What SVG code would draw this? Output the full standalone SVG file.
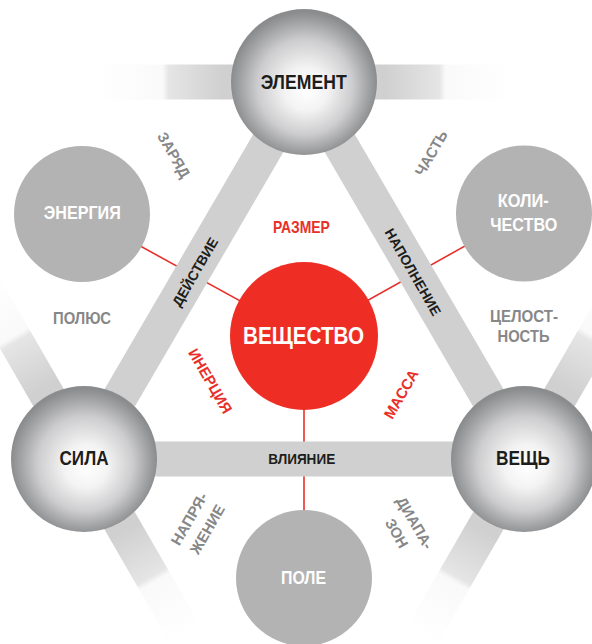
<svg xmlns="http://www.w3.org/2000/svg" width="592" height="644" viewBox="0 0 592 644">
<defs>
<radialGradient id="sphere" cx="50%" cy="52%" r="50%" fx="52%" fy="56%">
<stop offset="0" stop-color="#ffffff"/>
<stop offset="0.3" stop-color="#f3f3f3"/>
<stop offset="0.65" stop-color="#cdcdcf"/>
<stop offset="0.9" stop-color="#9d9ea0"/>
<stop offset="1" stop-color="#8b8c8e"/>
</radialGradient>
<linearGradient id="fade" x1="0" y1="0" x2="1" y2="0">
<stop offset="0" stop-color="#d0d0d0" stop-opacity="1"/>
<stop offset="0.4" stop-color="#d0d0d0" stop-opacity="1"/>
<stop offset="0.66" stop-color="#d0d0d0" stop-opacity="0.55"/>
<stop offset="0.69" stop-color="#d0d0d0" stop-opacity="0.12"/>
<stop offset="1" stop-color="#d0d0d0" stop-opacity="0"/>
</linearGradient>
</defs>
<style>
.t{font-family:"Liberation Sans",Arial,sans-serif;font-weight:bold;text-anchor:middle}
.blk{fill:#1d1d1b}
.wht{fill:#ffffff}
.gry{fill:#878787}
.red{fill:#e8302a}
.bar{stroke:#d0d0d0;stroke-width:35;fill:none}
.rl{stroke:#e8302a;stroke-width:1.6;fill:none}
.sph{fill:url(#sphere)}
.gc{fill:#b3b3b3}
</style>
<rect width="592" height="644" fill="#ffffff"/>
<g id="connectors">
<line class="rl" x1="82" y1="214" x2="304" y2="336"/>
<line class="rl" x1="524" y1="213" x2="304" y2="336"/>
<line class="rl" x1="304" y1="578" x2="304" y2="336"/>
<g id="outer-bars">
<rect x="0" y="-17.5" width="205" height="35" fill="url(#fade)" transform="translate(304 82) rotate(180)"/>
<rect x="0" y="-17.5" width="205" height="35" fill="url(#fade)" transform="translate(304 82)"/>
<rect x="0" y="-17.5" width="205" height="35" fill="url(#fade)" transform="translate(84 459) rotate(-120)"/>
<rect x="0" y="-17.5" width="205" height="35" fill="url(#fade)" transform="translate(84 459) rotate(60)"/>
<rect x="0" y="-17.5" width="205" height="35" fill="url(#fade)" transform="translate(524 459) rotate(-60)"/>
<rect x="0" y="-17.5" width="205" height="35" fill="url(#fade)" transform="translate(524 459) rotate(120)"/>
</g>
<line id="edge-action" class="bar" x1="84" y1="459" x2="304" y2="82"/>
<line id="edge-filling" class="bar" x1="304" y1="82" x2="524" y2="459"/>
<line id="edge-influence" class="bar" x1="84" y1="459" x2="524" y2="459"/>
<text class="t blk" font-size="14" textLength="77" lengthAdjust="spacingAndGlyphs" transform="translate(195 272) rotate(-60)" y="5">ДЕЙСТВИЕ</text>
<text class="t blk" font-size="14" textLength="98" lengthAdjust="spacingAndGlyphs" transform="translate(413 272) rotate(60)" y="5">НАПОЛНЕНИЕ</text>
<text class="t blk" x="301.7" y="464" font-size="14" textLength="67" lengthAdjust="spacingAndGlyphs">ВЛИЯНИЕ</text>
</g>
<g id="node-element">
<circle class="sph" cx="304" cy="82" r="73"/>
<text class="t blk" x="303.7" y="89.3" font-size="21" textLength="86" lengthAdjust="spacingAndGlyphs">ЭЛЕМЕНТ</text>
</g>
<g id="node-sila">
<circle class="sph" cx="84" cy="459" r="73"/>
<text class="t blk" x="84" y="464.7" font-size="20" textLength="49" lengthAdjust="spacingAndGlyphs">СИЛА</text>
</g>
<g id="node-veshch">
<circle class="sph" cx="524" cy="459" r="73"/>
<text class="t blk" x="523" y="465.3" font-size="20" textLength="54" lengthAdjust="spacingAndGlyphs">ВЕЩЬ</text>
</g>
<g id="node-veshchestvo">
<circle cx="304" cy="336" r="74" fill="#ee2e24"/>
<text class="t wht" x="303.5" y="344" font-size="24" textLength="121" lengthAdjust="spacingAndGlyphs">ВЕЩЕСТВО</text>
</g>
<g id="node-energiya">
<circle class="gc" cx="82" cy="214" r="68"/>
<text class="t wht" x="82.3" y="218.7" font-size="17.5" textLength="77" lengthAdjust="spacingAndGlyphs">ЭНЕРГИЯ</text>
</g>
<g id="node-kolichestvo">
<circle class="gc" cx="524" cy="213.5" r="68"/>
<text class="t wht" x="523.3" y="206.7" font-size="18" textLength="51" lengthAdjust="spacingAndGlyphs">КОЛИ-</text>
<text class="t wht" x="523.7" y="230.7" font-size="18" textLength="67" lengthAdjust="spacingAndGlyphs">ЧЕСТВО</text>
</g>
<g id="node-pole">
<circle class="gc" cx="304" cy="578" r="68"/>
<text class="t wht" x="303.5" y="584" font-size="18" textLength="45" lengthAdjust="spacingAndGlyphs">ПОЛЕ</text>
</g>
<g id="labels">
<text class="t red" x="301.4" y="233.3" font-size="17" textLength="57" lengthAdjust="spacingAndGlyphs">РАЗМЕР</text>
<text class="t red" font-size="15" textLength="72" lengthAdjust="spacingAndGlyphs" transform="translate(210.5 381) rotate(60)" y="5.4">ИНЕРЦИЯ</text>
<text class="t red" font-size="15" textLength="54" lengthAdjust="spacingAndGlyphs" transform="translate(401 394) rotate(-60)" y="5.4">МАССА</text>
<text class="t gry" x="82" y="324" font-size="16.5" textLength="58" lengthAdjust="spacingAndGlyphs">ПОЛЮС</text>
<text class="t gry" x="524" y="321.7" font-size="17" textLength="68" lengthAdjust="spacingAndGlyphs">ЦЕЛОСТ-</text>
<text class="t gry" x="523.5" y="342.3" font-size="17" textLength="52" lengthAdjust="spacingAndGlyphs">НОСТЬ</text>
<text class="t gry" font-size="15" textLength="50" lengthAdjust="spacingAndGlyphs" transform="translate(174 155) rotate(60)" y="5.4">ЗАРЯД</text>
<text class="t gry" font-size="15" textLength="50" lengthAdjust="spacingAndGlyphs" transform="translate(431 153) rotate(-60)" y="5.4">ЧАСТЬ</text>
<g transform="translate(198 524) rotate(-60)">
<text class="t gry" x="0" y="-5" font-size="15" textLength="58" lengthAdjust="spacingAndGlyphs">НАПРЯ-</text>
<text class="t gry" x="0" y="16" font-size="15" textLength="54" lengthAdjust="spacingAndGlyphs">ЖЕНИЕ</text>
</g>
<g transform="translate(406 528) rotate(60)">
<text class="t gry" x="0" y="-5" font-size="15" textLength="58" lengthAdjust="spacingAndGlyphs">ДИАПА-</text>
<text class="t gry" x="0" y="16" font-size="15" textLength="31" lengthAdjust="spacingAndGlyphs">ЗОН</text>
</g>
</g>
</svg>
